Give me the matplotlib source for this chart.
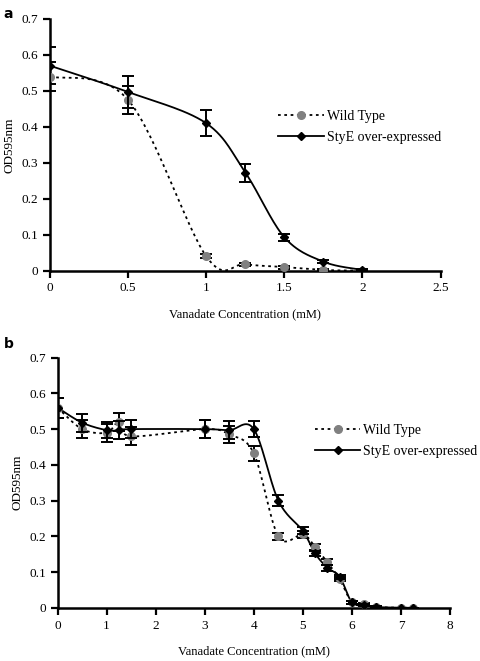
import numpy as np
import matplotlib
matplotlib.use("Agg")
import matplotlib.pyplot as plt
from matplotlib.lines import Line2D

plt.rcParams['font.family'] = ['Liberation Serif', 'DejaVu Serif']

# ---- panel a data
a_x = [0, 0.5, 1, 1.25, 1.5, 1.75, 2]
a_wt = [0.54, 0.475, 0.04, 0.018, 0.01, 0.002, 0.0]
a_wt_err = [0.04, 0.038, 0.005, 0.004, 0.004, 0.002, 0.0]
a_sty = [0.57, 0.497, 0.41, 0.273, 0.093, 0.025, 0.002]
a_sty_err = [0.052, 0.045, 0.036, 0.025, 0.01, 0.005, 0.002]

# ---- panel b data
b_x = [0, 0.5, 1, 1.25, 1.5, 3, 3.5, 4, 4.5, 5, 5.25, 5.5, 5.75, 6, 6.25, 6.5, 7, 7.25]
b_wt = [0.56, 0.50, 0.49, 0.52, 0.48, 0.50, 0.485, 0.432, 0.20, 0.205, 0.17, 0.127, 0.08,
        0.015, 0.01, 0.002, 0.0, 0.0]
b_wt_err = [0.028, 0.025, 0.025, 0.025, 0.025, 0.025, 0.025, 0.02, 0.01, 0.01, 0.008, 0.008,
            0.006, 0.004, 0.003, 0.002, 0.0, 0.0]
b_sty = [0.56, 0.518, 0.497, 0.497, 0.50, 0.50, 0.497, 0.50, 0.30, 0.215, 0.152, 0.112, 0.087,
         0.015, 0.007, 0.002, 0.0, 0.0]
b_sty_err = [0.028, 0.025, 0.022, 0.025, 0.025, 0.025, 0.025, 0.023, 0.015, 0.01, 0.008, 0.008,
             0.006, 0.004, 0.003, 0.002, 0.0, 0.0]


def smooth(x, y, n=30):
    # Excel-style smoothed line: cubic Bezier with Catmull-Rom control points
    x = np.asarray(x, float)
    y = np.asarray(y, float)
    px, py = [], []
    for i in range(len(x) - 1):
        i0 = max(i - 1, 0)
        i3 = min(i + 2, len(x) - 1)
        c1x = x[i] + (x[i + 1] - x[i0]) / 6
        c1y = y[i] + (y[i + 1] - y[i0]) / 6
        c2x = x[i + 1] - (x[i3] - x[i]) / 6
        c2y = y[i + 1] - (y[i3] - y[i]) / 6
        t = np.linspace(0, 1, n)
        px.append((1-t)**3*x[i] + 3*(1-t)**2*t*c1x + 3*(1-t)*t**2*c2x + t**3*x[i+1])
        py.append((1-t)**3*y[i] + 3*(1-t)**2*t*c1y + 3*(1-t)*t**2*c2y + t**3*y[i+1])
    return np.concatenate(px), np.concatenate(py)


def draw(ax, x, wt, wt_err, sty, sty_err, xmax, legend_pos):
    sx, sy = smooth(x, wt)
    ax.plot(sx, sy, color='black', lw=1.3, ls=(0, (1.5, 2)), zorder=2)
    sx, sy = smooth(x, sty)
    ax.plot(sx, sy, color='black', lw=1.3, zorder=3)
    ax.errorbar(x, wt, yerr=wt_err, fmt='o', color='#808080', ms=5.5, ecolor='black',
                elinewidth=1.4, capsize=4, capthick=1.4, zorder=4)
    ax.errorbar(x, sty, yerr=sty_err, fmt='D', color='black', ms=4.5, ecolor='black',
                elinewidth=1.4, capsize=4, capthick=1.4, zorder=5)

    ax.set_xlim(0, xmax)
    ax.set_ylim(0, 0.7)
    ax.set_yticks(np.arange(0, 0.71, 0.1))
    ax.set_yticklabels(['0', '0.1', '0.2', '0.3', '0.4', '0.5', '0.6', '0.7'])
    for s in ['top', 'right']:
        ax.spines[s].set_visible(False)
    for s in ['left', 'bottom']:
        ax.spines[s].set_linewidth(1.8)
    ax.tick_params(width=1.6, length=5, labelsize=9.5, direction='out')
    ax.set_ylabel('OD595nm', fontsize=9.5)
    ax.set_xlabel('Vanadate Concentration (mM)', fontsize=9, labelpad=10)

    handles = [
        Line2D([], [], color='black', lw=1.3, ls=(0, (1.5, 2)), marker='o',
               mfc='#808080', mec='#808080', ms=5.5),
        Line2D([], [], color='black', lw=1.3, marker='D', mfc='black', ms=4.5),
    ]
    ax.legend(handles, ['Wild Type', 'StyE over-expressed'], frameon=False, fontsize=10,
              loc='upper left', bbox_to_anchor=legend_pos, handlelength=3.3,
              handletextpad=0.2, labelspacing=0.6, borderpad=0, borderaxespad=0)


fig = plt.figure(figsize=(4.8, 6.61), dpi=100)
ax1 = fig.add_axes([0.104, 0.5905, 0.814, 0.3808])
ax2 = fig.add_axes([0.120, 0.0806, 0.8175, 0.3783])

draw(ax1, a_x, a_wt, a_wt_err, a_sty, a_sty_err, 2.5, (0.585, 0.64))
ax1.set_xticks([0, 0.5, 1, 1.5, 2, 2.5])
ax1.set_xticklabels(['0', '0.5', '1', '1.5', '2', '2.5'])

draw(ax2, b_x, b_wt, b_wt_err, b_sty, b_sty_err, 8, (0.655, 0.735))
ax2.set_xticks(range(0, 9))

fig.text(0.008, 0.99, 'a', fontsize=10, fontweight='bold', family='DejaVu Sans', va='top')
fig.text(0.008, 0.49, 'b', fontsize=10, fontweight='bold', family='DejaVu Sans', va='top')

fig.savefig('out.png', dpi=100)
